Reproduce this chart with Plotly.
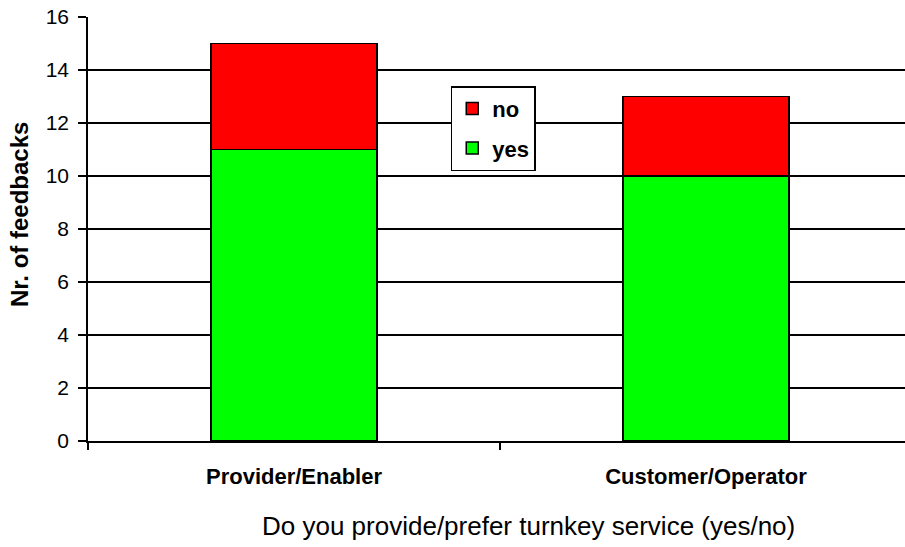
import plotly.graph_objects as go

categories = ["Provider/Enabler", "Customer/Operator"]
yes_values = [11, 10]
no_values = [4, 3]
y_ticks = [0, 2, 4, 6, 8, 10, 12, 14, 16]
x_title = "Do you provide/prefer turnkey service (yes/no)"
y_title = "Nr. of feedbacks"

FONT = "Arial, Liberation Sans, sans-serif"

fig = go.Figure()
fig.add_trace(go.Bar(
    x=categories, y=yes_values, name="yes",
    marker=dict(color="#00FF00", line=dict(color="#000000", width=1.5)),
    width=0.403, legendgroup="yes", legendrank=2,
))
fig.add_trace(go.Bar(
    x=categories, y=no_values, name="no",
    marker=dict(color="#FF0000", line=dict(color="#000000", width=1.5)),
    width=0.403, legendgroup="no", legendrank=1,
))

fig.update_layout(
    width=905, height=547,
    barmode="stack",
    paper_bgcolor="white", plot_bgcolor="white",
    margin=dict(l=88, r=0, t=17, b=106, autoexpand=False),
    font=dict(family=FONT, color="#000000"),
    showlegend=True,
    legend=dict(
        x=0.444, y=0.837, xanchor="left", yanchor="top",
        traceorder="grouped", tracegroupgap=8,
        bordercolor="#000000", borderwidth=1.5, bgcolor="white",
        font=dict(size=22, family=FONT, weight="bold"),
        itemwidth=30,
    ),
)

fig.update_xaxes(
    type="category",
    range=[-0.5, 1.483],
    showline=True, linecolor="#000000", linewidth=1.5,
    ticks="outside", ticklen=7, tickwidth=1.5, tickcolor="#000000",
    tickson="boundaries",
    showgrid=False,
    tickfont=dict(size=22, family=FONT, weight="bold"),
    ticklabelstandoff=15,
)
fig.update_yaxes(
    range=[0, 16],
    tickvals=y_ticks,
    showline=True, linecolor="#000000", linewidth=1.5,
    ticks="outside", ticklen=8, tickwidth=1.5, tickcolor="#000000",
    showgrid=True, gridcolor="#000000", gridwidth=1.5,
    zeroline=False,
    tickfont=dict(size=21, family=FONT),
    ticklabelstandoff=5,
)

fig.add_annotation(
    text=x_title, xref="paper", yref="paper",
    x=(528 - 88) / 817, y=(441 - 526) / 424,
    xanchor="center", yanchor="middle", showarrow=False,
    font=dict(size=26, family=FONT),
)
fig.add_annotation(
    text="<b>" + y_title + "</b>", xref="paper", yref="paper",
    x=(20 - 88) / 817, y=(441 - 215) / 424, textangle=-90,
    xanchor="center", yanchor="middle", showarrow=False,
    font=dict(size=24, family=FONT),
)

fig.write_html(
    "out.html",
    config={"displayModeBar": False},
    post_script="document.body.style.margin='0';",
)
